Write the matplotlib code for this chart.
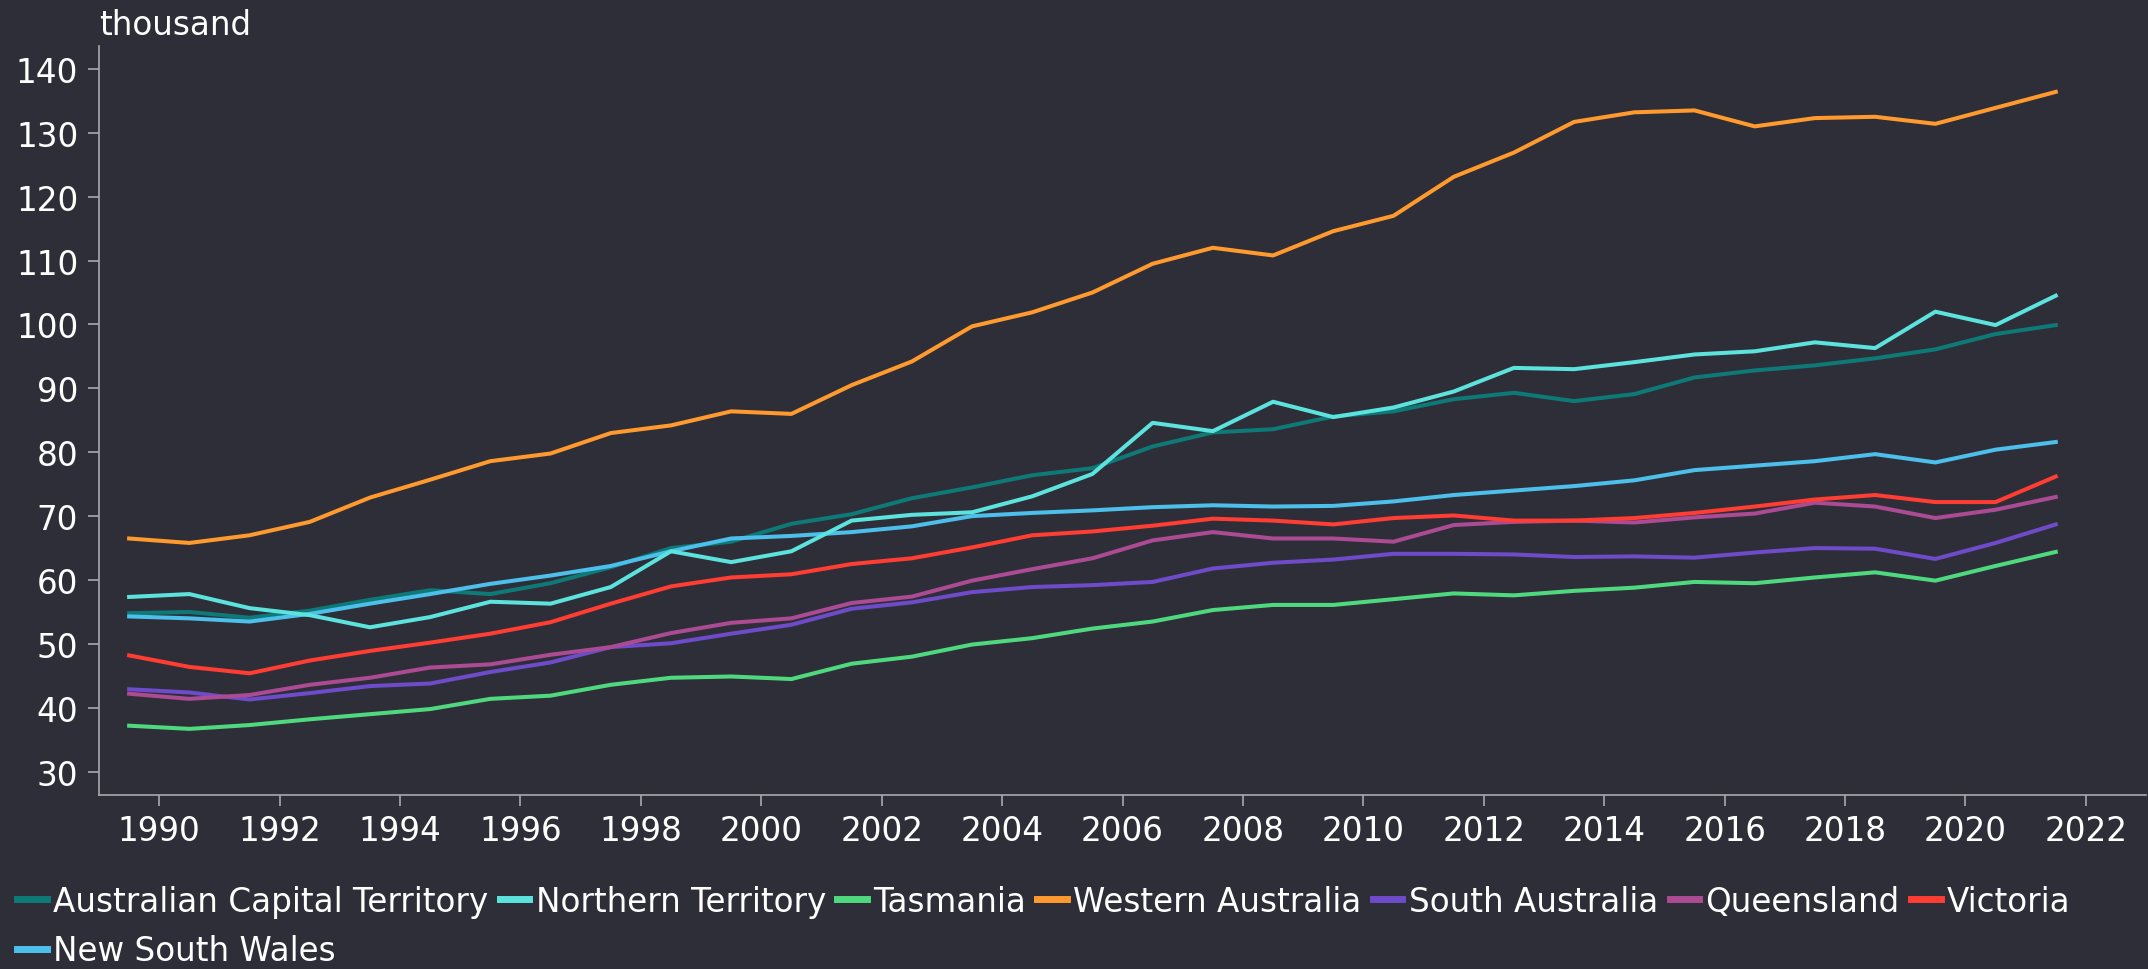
import numpy as np
import matplotlib
matplotlib.use("Agg")
from matplotlib import pyplot as plt

# x positions are mid-year (financial years)
years = np.arange(1989.5, 2022.0, 1.0)

act = [54.8, 55.0, 54.1, 55.2, 56.9, 58.4, 57.8, 59.5, 62.0, 65.0, 66.0, 68.8, 70.3, 72.8, 74.5, 76.4,
       77.5, 80.9, 83.1, 83.6, 85.6, 86.4, 88.3, 89.3, 88.0, 89.1, 91.7, 92.8, 93.6, 94.7, 96.1, 98.5, 99.9]
nsw = [54.3, 54.0, 53.5, 54.7, 56.3, 57.8, 59.4, 60.7, 62.2, 64.5, 66.5, 66.9, 67.5, 68.4, 70.0, 70.5,
       70.9, 71.4, 71.7, 71.5, 71.6, 72.3, 73.3, 74.0, 74.7, 75.6, 77.2, 77.9, 78.6, 79.7, 78.4, 80.4, 81.6]
nt = [57.35, 57.8, 55.6, 54.5, 52.6, 54.2, 56.6, 56.3, 58.9, 64.5, 62.8, 64.5, 69.3, 70.2, 70.6, 73.1,
      76.6, 84.6, 83.3, 87.9, 85.5, 87.0, 89.5, 93.2, 93.0, 94.1, 95.3, 95.8, 97.2, 96.3, 102.0, 99.9, 104.5]
tas = [37.2, 36.7, 37.3, 38.2, 39.0, 39.8, 41.4, 41.9, 43.6, 44.7, 44.9, 44.5, 46.9, 48.0, 49.9, 50.9,
       52.4, 53.5, 55.3, 56.1, 56.1, 57.0, 57.9, 57.6, 58.3, 58.8, 59.7, 59.5, 60.4, 61.2, 59.9, 62.2, 64.4]
wa = [66.5, 65.8, 67.0, 69.1, 72.9, 75.7, 78.6, 79.8, 83.0, 84.2, 86.4, 86.0, 90.5, 94.2, 99.7, 101.9,
      105.0, 109.5, 112.0, 110.8, 114.6, 117.0, 123.1, 126.9, 131.7, 133.2, 133.5, 131.0, 132.3, 132.5, 131.4, 133.9, 136.4]
sa = [42.9, 42.4, 41.3, 42.3, 43.4, 43.8, 45.6, 47.1, 49.5, 50.1, 51.6, 53.0, 55.5, 56.5, 58.1, 58.9,
      59.2, 59.7, 61.8, 62.7, 63.2, 64.1, 64.1, 64.0, 63.6, 63.7, 63.5, 64.3, 65.0, 64.9, 63.3, 65.8, 68.7]
qld = [42.2, 41.4, 42.0, 43.6, 44.7, 46.3, 46.8, 48.3, 49.5, 51.7, 53.3, 54.0, 56.4, 57.4, 59.9, 61.7,
       63.4, 66.2, 67.5, 66.5, 66.5, 66.0, 68.6, 69.1, 69.3, 69.0, 69.8, 70.4, 72.1, 71.5, 69.7, 71.0, 73.0]
vic = [48.2, 46.4, 45.4, 47.4, 48.9, 50.2, 51.6, 53.4, 56.3, 59.0, 60.4, 60.9, 62.5, 63.4, 65.1, 67.0,
       67.6, 68.5, 69.6, 69.3, 68.7, 69.7, 70.1, 69.3, 69.3, 69.7, 70.5, 71.5, 72.6, 73.3, 72.2, 72.2, 76.2]

# legend order: matplotlib fills columns first, so NSW goes second to land under ACT
series = [
    ('Australian Capital Territory', act, '#0e7a77'),
    ('New South Wales', nsw, '#4cc0ea'),
    ('Northern Territory', nt, '#5ce3dd'),
    ('Tasmania', tas, '#4fd97f'),
    ('Western Australia', wa, '#ff9a2e'),
    ('South Australia', sa, '#6e4bc8'),
    ('Queensland', qld, '#ab4b93'),
    ('Victoria', vic, '#ff3d33'),
]

bg = '#2e2e38'
fg = 'white'
spine_col = '#a8a8ad'

plt.rcParams['font.family'] = ['DejaVu Sans']
fig = plt.figure(figsize=(21.48, 9.70), dpi=100, facecolor=bg)
ax = fig.add_axes([0.0461, 0.1797, 0.953, 0.7723])
ax.set_facecolor(bg)

for name, vals, col in series:
    ax.plot(years, vals, color=col, lw=2.9, label=name)

ax.set_xlim(1989.0, 2023.0)
ax.set_ylim(26.4, 143.65)
ax.set_xticks(np.arange(1990, 2023, 2))
ax.set_yticks(np.arange(30, 141, 10))

for s in ['top', 'right']:
    ax.spines[s].set_visible(False)
for s in ['left', 'bottom']:
    ax.spines[s].set_color(spine_col)
    ax.spines[s].set_linewidth(1.2)
ax.tick_params(axis='both', colors=spine_col, labelcolor=fg, labelsize=23.5, length=8, width=1.2)
ax.tick_params(axis='x', pad=6)
ax.tick_params(axis='y', pad=7)

fig.text(0.0461, 0.991, 'thousand', color=fg, fontsize=23.5, ha='left', va='top')

leg = fig.legend(loc='upper left', bbox_to_anchor=(0.008, 0.087), ncol=7, frameon=False,
                 fontsize=23.5, handlelength=0.9, handletextpad=0.2, columnspacing=0.35,
                 labelspacing=0.5, borderaxespad=0, borderpad=0)
for t in leg.get_texts():
    t.set_color(fg)
for h in leg.legend_handles:
    h.set_linewidth(5)

fig.savefig('out.png', dpi=100, facecolor=bg)
